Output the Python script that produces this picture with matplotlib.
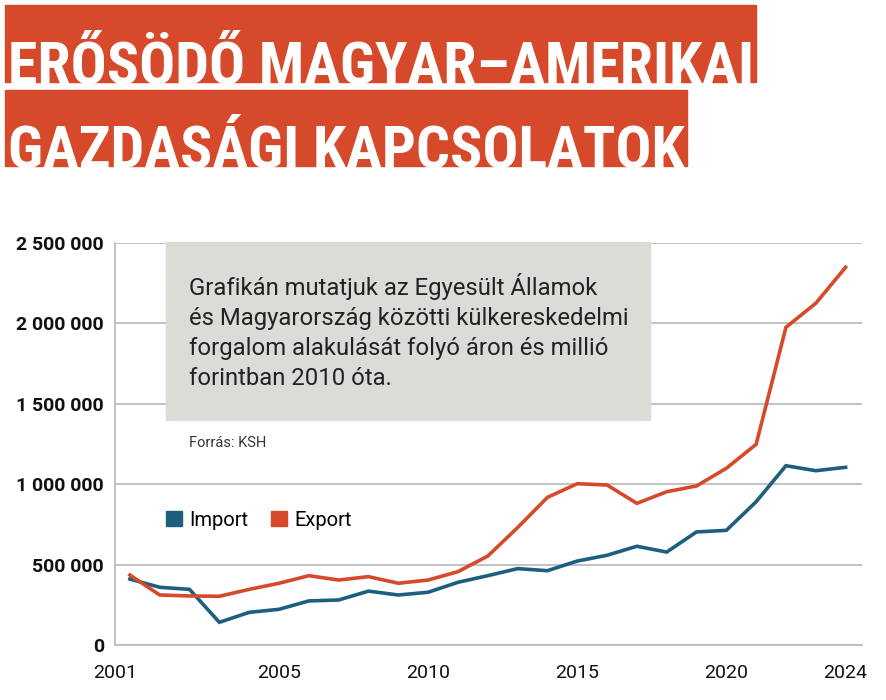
import matplotlib
matplotlib.use("Agg")
import matplotlib.pyplot as plt
from matplotlib import font_manager
from matplotlib.patches import Rectangle, Patch
from matplotlib.ticker import FuncFormatter

# --- data (millió forint) ---
years = list(range(2000, 2025))
import_values = [410000, 359000, 346000, 141000, 203000, 222000, 274000, 280000,
                 335000, 311000, 328000, 390000, 431000, 475000, 462000, 522000,
                 558000, 614000, 578000, 703000, 713000, 891000, 1115000, 1084000,
                 1105000]
export_values = [435000, 311000, 305000, 303000, 346000, 384000, 431000, 404000,
                 425000, 384000, 404000, 456000, 553000, 730000, 918000, 1003000,
                 995000, 881000, 953000, 989000, 1099000, 1248000, 1976000, 2125000,
                 2349000]
y_ticks = [0, 500000, 1000000, 1500000, 2000000, 2500000]
x_tick_labels = ["2001", "2005", "2010", "2015", "2020", "2024"]
title_lines = ["ERŐSÖDŐ MAGYAR–AMERIKAI", "GAZDASÁGI KAPCSOLATOK"]
note = ("Grafikán mutatjuk az Egyesült Államok\n"
        "és Magyarország közötti külkereskedelmi\n"
        "forgalom alakulását folyó áron és millió\n"
        "forintban 2010 óta.")
source = "Forrás: KSH"

ORANGE = "#d64a2b"
BLUE = "#1e5e7e"
BOX = "#dddbd8"
GRID = "#bdbdbd"

W, H = 886, 700
fx = lambda px: px / W
fy = lambda py: 1 - py / H

installed = {f.name for f in font_manager.fontManager.ttflist}
body_font = "Roboto" if "Roboto" in installed else "DejaVu Sans"
title_font, title_stretch = "DejaVu Sans", "condensed"
for cand in ["Roboto Condensed", "Liberation Sans Narrow", "Open Sans Condensed"]:
    if cand in installed:
        title_font, title_stretch = cand, "normal"
        break

plt.rcParams["font.family"] = [body_font, "DejaVu Sans"]

fig = plt.figure(figsize=(W / 100, H / 100), dpi=100)
renderer = fig.canvas.get_renderer()

# --- title bands ---
band_tops = [5, 90]
band_bottoms = [82, 166]
size = 60
probe = fig.text(fx(8), fy(82), title_lines[0], fontsize=size, family=[title_font, "DejaVu Sans"],
                 fontstretch=title_stretch, fontweight="bold")
width = probe.get_window_extent(renderer).width
probe.remove()
size = size * (747 / width)

for line, top, bottom in zip(title_lines, band_tops, band_bottoms):
    t = fig.text(fx(8), fy(bottom + 1), line, fontsize=size, family=[title_font, "DejaVu Sans"],
                 fontstretch=title_stretch, fontweight="bold", color="white",
                 va="baseline", ha="left", zorder=3)
    right = t.get_window_extent(renderer).x1
    fig.patches.append(Rectangle((fx(5), fy(bottom)), fx(right + 2) - fx(5), (bottom - top) / H,
                                 transform=fig.transFigure, color=ORANGE, zorder=1))

# --- chart ---
ax = fig.add_axes([fx(115), fy(645), fx(862) - fx(115), fy(243) - fy(645)])
ax.plot(years, import_values, color=BLUE, lw=2.6, solid_joinstyle="miter", zorder=3)
ax.plot(years, export_values, color=ORANGE, lw=2.6, solid_joinstyle="miter", zorder=3)

ax.set_xlim(1999.5, 2024.55)
ax.set_ylim(0, 2500000)
ax.set_yticks(y_ticks)
ax.yaxis.set_major_formatter(FuncFormatter(lambda v, p: f"{v:,.0f}".replace(",", " ")))
tick_pos = [1999.5] + [int(s) for s in x_tick_labels[1:]]
ax.set_xticks(tick_pos)
ax.set_xticklabels(x_tick_labels)

ax.grid(axis="y", color=GRID, lw=1.3, zorder=0)
ax.set_axisbelow(True)
for s in ["top", "right"]:
    ax.spines[s].set_visible(False)
ax.spines["left"].set_color(GRID)
ax.spines["bottom"].set_color(GRID)
ax.spines["left"].set_linewidth(1.3)
ax.spines["bottom"].set_linewidth(1.3)
ax.tick_params(length=0)
ax.tick_params(axis="y", labelsize=14, pad=8, labelcolor="#111111")
ax.tick_params(axis="x", labelsize=14, pad=14, labelcolor="#111111")
for lab in ax.get_yticklabels():
    lab.set_fontweight("bold")

# --- note box ---
fig.patches.append(Rectangle((fx(166), fy(420)), fx(650) - fx(166), fy(242) - fy(420),
                             transform=fig.transFigure, color=BOX, zorder=2))
fig.text(fx(189), fy(273), note, fontsize=17.2, color="#222222", va="top", ha="left",
         linespacing=1.38, zorder=4)
fig.text(fx(189), fy(443), source, fontsize=10.5, color="#333333", va="center", ha="left", zorder=4)

# --- legend ---
handles = [Patch(color=BLUE, label="Import"), Patch(color=ORANGE, label="Export")]
fig.legend(handles=handles, loc="center left", bbox_to_anchor=(fx(166), fy(520)),
           ncol=2, frameon=False, fontsize=14.5, handlelength=0.8, handleheight=0.8,
           handletextpad=0.35, columnspacing=1.15, borderpad=0, borderaxespad=0)

fig.savefig("out.png", dpi=100)
